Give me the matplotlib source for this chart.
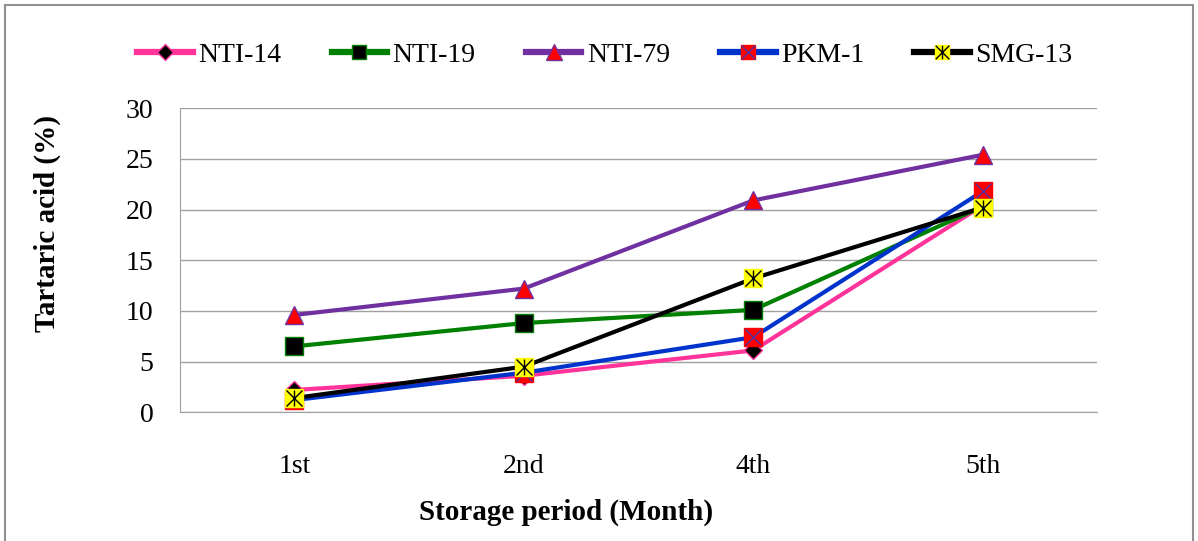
import matplotlib
matplotlib.use("Agg")
import matplotlib.pyplot as plt
from matplotlib.legend_handler import HandlerTuple
from matplotlib.patches import Rectangle
from matplotlib.path import Path

# data
months = ["1st", "2nd", "4th", "5th"]
nti14 = [2.2, 3.6, 6.1, 20.4]
nti19 = [6.5, 8.8, 10.1, 20.3]
nti79 = [9.6, 12.2, 20.9, 25.4]
pkm1 = [1.2, 3.9, 7.4, 21.8]
smg13 = [1.4, 4.5, 13.2, 20.2]

plt.rcParams['font.family'] = ['Liberation Serif', 'DejaVu Serif']

fig = plt.figure(figsize=(11.98, 5.41), dpi=100)
ax = fig.add_axes([0.150, 0.238, 0.766, 0.562])

# outer frame
fig.patches.append(Rectangle((0.004, -0.01), 0.992, 1.0, transform=fig.transFigure,
                             fill=False, edgecolor='#909090', linewidth=1.5))

# excel-like star: x plus vertical bar
M, L = Path.MOVETO, Path.LINETO
star = Path([(-1, -1), (1, 1), (-1, 1), (1, -1), (0, -1), (0, 1)],
            [M, L, M, L, M, L])

x = range(len(months))
lw = 3
ms = 12.5

h1, = ax.plot(x, nti14, color='#FF3399', lw=lw, marker='D', ms=9,
              mfc='black', mec='#FF3399')
h2, = ax.plot(x, nti19, color='#008000', lw=lw, marker='s', ms=ms,
              mfc='black', mec='#008000')
h3, = ax.plot(x, nti79, color='#7030A0', lw=lw, marker='^', ms=ms + 1,
              mfc='red', mec='#7030A0')
h4, = ax.plot(x, pkm1, color='#0033CC', lw=lw, marker='s', ms=ms,
              mfc='red', mec='red')
h4b, = ax.plot(x, pkm1, ls='none', marker='x', ms=ms - 1, mec='#5030A0', mew=1)
h5, = ax.plot(x, smg13, color='black', lw=lw, marker='s', ms=ms,
              mfc='yellow', mec='yellow')
h5b, = ax.plot(x, smg13, ls='none', marker=star, ms=ms - 1, mec='black', mew=1)

ax.set_xlim(-0.5, 3.5)
ax.set_ylim(0, 30)
ax.set_yticks([0, 5, 10, 15, 20, 25, 30])
ax.set_xticks(list(x))
ax.set_xticklabels(months)
ax.tick_params(length=0, labelsize=20)
ax.tick_params(axis='y', pad=19)
ax.tick_params(axis='x', pad=30)
ax.grid(axis='y', color='#A0A0A0', linewidth=1)
ax.set_axisbelow(True)
for s in ['top', 'right']:
    ax.spines[s].set_visible(False)
ax.spines['left'].set_color('#A0A0A0')
ax.spines['bottom'].set_color('#A0A0A0')

ax.set_ylabel("Tartaric acid (%)", fontsize=21, fontweight='bold')
ax.set_xlabel("Storage period (Month)", fontsize=21, fontweight='bold')
ax.yaxis.set_label_coords(-0.129, 0.62)
ax.xaxis.set_label_coords(0.421, -0.285)

leg = fig.legend([h1, h2, h3, (h4, h4b), (h5, h5b)],
                 ["NTI-14", "NTI-19", "NTI-79", "PKM-1", "SMG-13"],
                 loc='center', bbox_to_anchor=(0.505, 0.898), ncol=5, frameon=False,
                 fontsize=20, handlelength=2.0, columnspacing=1.8, handletextpad=0.2,
                 markerscale=0.85,
                 handler_map={tuple: HandlerTuple(ndivide=1, pad=0)})
for ln in leg.get_lines():
    if ln.get_linestyle() != 'None':
        ln.set_linewidth(4.5)

fig.savefig("out.png", dpi=100)
